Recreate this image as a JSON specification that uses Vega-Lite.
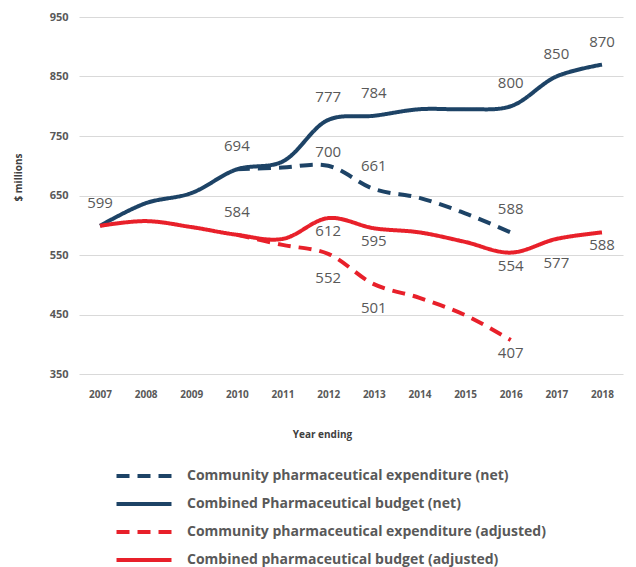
{
  "$schema": "https://vega.github.io/schema/vega-lite/v6.json",
  "width": 544,
  "height": 357,
  "autosize": {"type": "none"},
  "padding": {"left": 79, "top": 17, "right": 13, "bottom": 193},
  "config": {"view": {"stroke": null}, "font": "Open Sans"},
  "data": {
    "values": [
      {"series": "Combined Pharmaceutical budget (net)", "year": "2007", "value": 599, "labelled": true},
      {"series": "Combined Pharmaceutical budget (net)", "year": "2008", "value": 637, "labelled": false},
      {"series": "Combined Pharmaceutical budget (net)", "year": "2009", "value": 654, "labelled": false},
      {"series": "Combined Pharmaceutical budget (net)", "year": "2010", "value": 694, "labelled": true},
      {"series": "Combined Pharmaceutical budget (net)", "year": "2011", "value": 707, "labelled": false},
      {"series": "Combined Pharmaceutical budget (net)", "year": "2012", "value": 777, "labelled": true},
      {"series": "Combined Pharmaceutical budget (net)", "year": "2013", "value": 784, "labelled": true},
      {"series": "Combined Pharmaceutical budget (net)", "year": "2014", "value": 795, "labelled": false},
      {"series": "Combined Pharmaceutical budget (net)", "year": "2015", "value": 795, "labelled": false},
      {"series": "Combined Pharmaceutical budget (net)", "year": "2016", "value": 800, "labelled": true},
      {"series": "Combined Pharmaceutical budget (net)", "year": "2017", "value": 850, "labelled": true},
      {"series": "Combined Pharmaceutical budget (net)", "year": "2018", "value": 870, "labelled": true},
      {"series": "Community pharmaceutical expenditure (net)", "year": "2010", "value": 694, "labelled": false},
      {"series": "Community pharmaceutical expenditure (net)", "year": "2011", "value": 697, "labelled": false},
      {"series": "Community pharmaceutical expenditure (net)", "year": "2012", "value": 700, "labelled": true},
      {"series": "Community pharmaceutical expenditure (net)", "year": "2013", "value": 661, "labelled": true},
      {"series": "Community pharmaceutical expenditure (net)", "year": "2014", "value": 646, "labelled": false},
      {"series": "Community pharmaceutical expenditure (net)", "year": "2015", "value": 620, "labelled": false},
      {"series": "Community pharmaceutical expenditure (net)", "year": "2016", "value": 588, "labelled": true},
      {"series": "Combined pharmaceutical budget (adjusted)", "year": "2007", "value": 599, "labelled": false},
      {"series": "Combined pharmaceutical budget (adjusted)", "year": "2008", "value": 607, "labelled": false},
      {"series": "Combined pharmaceutical budget (adjusted)", "year": "2009", "value": 597, "labelled": false},
      {"series": "Combined pharmaceutical budget (adjusted)", "year": "2010", "value": 584, "labelled": true},
      {"series": "Combined pharmaceutical budget (adjusted)", "year": "2011", "value": 577, "labelled": false},
      {"series": "Combined pharmaceutical budget (adjusted)", "year": "2012", "value": 612, "labelled": true},
      {"series": "Combined pharmaceutical budget (adjusted)", "year": "2013", "value": 595, "labelled": true},
      {"series": "Combined pharmaceutical budget (adjusted)", "year": "2014", "value": 588, "labelled": false},
      {"series": "Combined pharmaceutical budget (adjusted)", "year": "2015", "value": 572, "labelled": false},
      {"series": "Combined pharmaceutical budget (adjusted)", "year": "2016", "value": 554, "labelled": true},
      {"series": "Combined pharmaceutical budget (adjusted)", "year": "2017", "value": 577, "labelled": true},
      {"series": "Combined pharmaceutical budget (adjusted)", "year": "2018", "value": 588, "labelled": true},
      {"series": "Community pharmaceutical expenditure (adjusted)", "year": "2010", "value": 584, "labelled": false},
      {"series": "Community pharmaceutical expenditure (adjusted)", "year": "2011", "value": 567, "labelled": false},
      {"series": "Community pharmaceutical expenditure (adjusted)", "year": "2012", "value": 552, "labelled": true},
      {"series": "Community pharmaceutical expenditure (adjusted)", "year": "2013", "value": 501, "labelled": true},
      {"series": "Community pharmaceutical expenditure (adjusted)", "year": "2014", "value": 478, "labelled": false},
      {"series": "Community pharmaceutical expenditure (adjusted)", "year": "2015", "value": 449, "labelled": false},
      {"series": "Community pharmaceutical expenditure (adjusted)", "year": "2016", "value": 407, "labelled": true}
    ]
  },
  "encoding": {
    "x": {
      "field": "year",
      "type": "ordinal",
      "scale": {"type": "point", "padding": 0.46},
      "axis": {
        "title": "Year ending",
        "labelAngle": 0,
        "labelFont": "Open Sans",
        "labelFontSize": 10,
        "labelFontWeight": "bold",
        "labelColor": "#595959",
        "labelPadding": 15,
        "ticks": false,
        "domain": false,
        "grid": false,
        "titleFont": "Open Sans",
        "titleFontSize": 10,
        "titleFontWeight": "bold",
        "titleColor": "#404040",
        "titleX": 243,
        "titleY": 60,
        "titleBaseline": "middle",
        "titleAlign": "center"
      }
    },
    "y": {
      "field": "value",
      "type": "quantitative",
      "scale": {"domain": [350, 950], "nice": false, "zero": false},
      "axis": {
        "title": "$ millions",
        "values": [350, 450, 550, 650, 750, 850, 950],
        "labelFont": "Open Sans",
        "labelFontSize": 11,
        "labelFontWeight": "bold",
        "labelColor": "#595959",
        "labelPadding": 11,
        "ticks": false,
        "domain": false,
        "grid": true,
        "gridColor": "#d9d9d9",
        "gridWidth": 1,
        "titleFont": "Open Sans",
        "titleFontSize": 10,
        "titleFontWeight": "bold",
        "titleColor": "#404040",
        "titleX": -61,
        "titleY": 160,
        "titleAngle": -90,
        "titleAlign": "center",
        "titleBaseline": "middle"
      }
    }
  },
  "layer": [
    {
      "mark": {"type": "line", "interpolate": "catmull-rom", "strokeWidth": 4, "strokeCap": "butt"},
      "encoding": {
        "color": {
          "field": "series",
          "type": "nominal",
          "scale": {
            "domain": [
              "Community pharmaceutical expenditure (net)",
              "Combined Pharmaceutical budget (net)",
              "Community pharmaceutical expenditure (adjusted)",
              "Combined pharmaceutical budget (adjusted)"
            ],
            "range": ["#1d4366", "#1d4366", "#e8202a", "#e8202a"]
          },
          "legend": {
            "title": null,
            "orient": "none",
            "legendX": 49,
            "legendY": 443,
            "symbolType": "M-2,0H2",
            "symbolSize": 756,
            "symbolStrokeWidth": 4,
            "labelFont": "Open Sans",
            "labelFontSize": 14,
            "labelFontWeight": "bold",
            "labelColor": "#595959",
            "labelOffset": 27,
            "rowPadding": 4,
            "labelLimit": 500,
            "encode": {
              "symbols": {
                "update": {
                  "strokeDash": {"signal": "indexof(datum.value, 'Community') == 0 ? [20, 17] : [1, 0]"}
                }
              }
            }
          }
        },
        "strokeDash": {
          "field": "series",
          "type": "nominal",
          "scale": {
            "domain": [
              "Community pharmaceutical expenditure (net)",
              "Combined Pharmaceutical budget (net)",
              "Community pharmaceutical expenditure (adjusted)",
              "Combined pharmaceutical budget (adjusted)"
            ],
            "range": [[13, 8], [1, 0], [13, 8], [1, 0]]
          },
          "legend": null
        },
        "order": {"field": "year"}
      }
    },
    {
      "transform": [
        {"filter": "datum.labelled && (datum.series == 'Combined Pharmaceutical budget (net)' || (datum.series == 'Community pharmaceutical expenditure (net)' && datum.year != '2012') || (datum.series == 'Combined pharmaceutical budget (adjusted)' && datum.year == '2010'))"}
      ],
      "mark": {"type": "text", "dy": -23, "fontSize": 15, "font": "Open Sans", "color": "#595959"},
      "encoding": {"text": {"field": "value", "type": "quantitative"}}
    },
    {
      "transform": [
        {"filter": "datum.labelled && datum.series == 'Community pharmaceutical expenditure (net)' && datum.year == '2012'"}
      ],
      "mark": {"type": "text", "dy": -14, "fontSize": 15, "font": "Open Sans", "color": "#595959"},
      "encoding": {"text": {"field": "value", "type": "quantitative"}}
    },
    {
      "transform": [
        {"filter": "datum.labelled && ((datum.series == 'Combined pharmaceutical budget (adjusted)' && datum.year != '2010' && datum.year != '2017') || (datum.series == 'Community pharmaceutical expenditure (adjusted)' && datum.year == '2016'))"}
      ],
      "mark": {"type": "text", "dy": 13, "fontSize": 15, "font": "Open Sans", "color": "#595959"},
      "encoding": {"text": {"field": "value", "type": "quantitative"}}
    },
    {
      "transform": [
        {"filter": "datum.labelled && ((datum.series == 'Combined pharmaceutical budget (adjusted)' && datum.year == '2017') || (datum.series == 'Community pharmaceutical expenditure (adjusted)' && datum.year != '2016'))"}
      ],
      "mark": {"type": "text", "dy": 24, "fontSize": 15, "font": "Open Sans", "color": "#595959"},
      "encoding": {"text": {"field": "value", "type": "quantitative"}}
    }
  ]
}
